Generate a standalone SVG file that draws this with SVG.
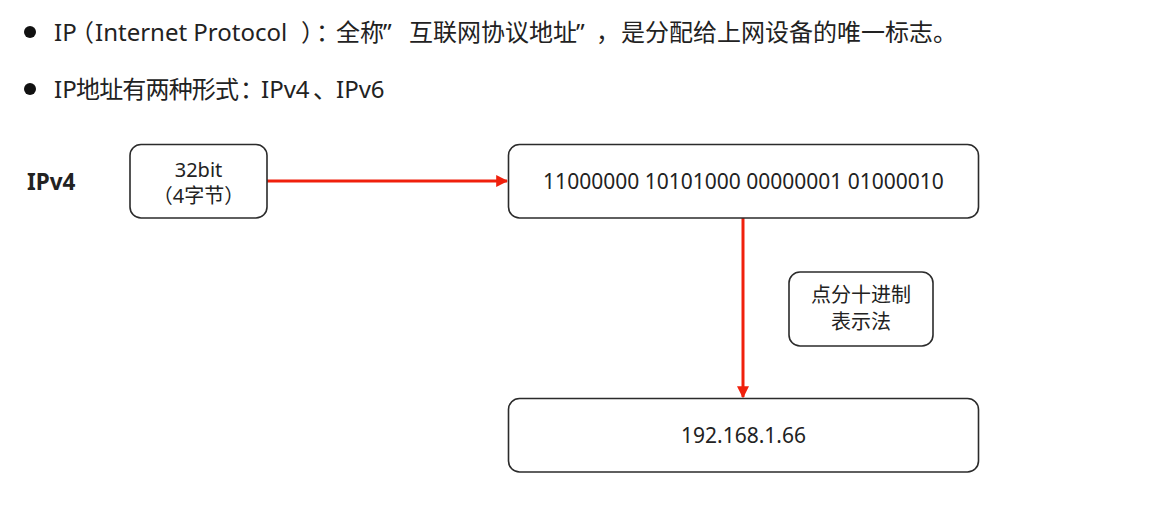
<svg xmlns="http://www.w3.org/2000/svg" width="1164" height="507" viewBox="0 0 1164 507">
<defs>
<style>
.t{font-family:"Noto Sans","Noto Sans CJK SC",sans-serif;fill:#222;text-spacing-trim:space-all;}
.box{fill:#fff;stroke:#2b2b2b;stroke-width:1.6;}
.con{stroke:#f0200c;stroke-width:3;fill:none;}
</style>
<marker id="ah" viewBox="0 0 10 10" refX="9" refY="5" markerWidth="4" markerHeight="4" markerUnits="strokeWidth" orient="auto">
<path d="M0,0 L10,5 L0,10 z" fill="#f0200c"/>
</marker>
</defs>
<rect width="1164" height="507" fill="#fff"/>
<g id="header">
<circle cx="30" cy="32" r="6" fill="#111"/>
<text class="t" y="41" font-size="24"><tspan x="54">IP</tspan><tspan x="70">（</tspan><tspan x="95">Internet Protocol</tspan><tspan x="301">）</tspan><tspan x="316">：</tspan><tspan x="336">全称</tspan><tspan x="383">”</tspan><tspan x="409">互联网协议地址</tspan><tspan x="576">”</tspan><tspan x="596">，</tspan><tspan x="621">是分配给上网设备的唯一标志。</tspan></text>
<circle cx="30" cy="89" r="6" fill="#111"/>
<text class="t" y="98" font-size="24"><tspan x="54">IP</tspan><tspan x="76" textLength="163" lengthAdjust="spacing">地址有两种形式</tspan><tspan x="240">：</tspan><tspan x="261">IPv4</tspan><tspan x="313">、</tspan><tspan x="336">IPv6</tspan></text>
<text class="t" x="27" y="190" font-size="22.5" font-weight="bold" fill="#111">IPv4</text>
</g>
<g id="connectors">
<line class="con" x1="267" y1="181" x2="507" y2="181" marker-end="url(#ah)"/>
<line class="con" x1="743" y1="218" x2="743" y2="397" marker-end="url(#ah)"/>
</g>
<g id="node-32bit">
<rect class="box" x="130" y="144.5" width="137" height="73.5" rx="11"/>
<text class="t" x="198.5" y="177" font-size="20" text-anchor="middle">32bit</text>
<text class="t" x="198.5" y="203" font-size="20" text-anchor="middle">（4字节）</text>
</g>
<g id="node-binary">
<rect class="box" x="508.5" y="144.5" width="470" height="73.5" rx="11"/>
<text class="t" x="743.5" y="189" font-size="21" text-anchor="middle">11000000 10101000 00000001 01000010</text>
</g>
<g id="node-label">
<rect class="box" x="789" y="272" width="144" height="74" rx="11"/>
<text class="t" x="861" y="302" font-size="20" text-anchor="middle">点分十进制</text>
<text class="t" x="861" y="329" font-size="20" text-anchor="middle">表示法</text>
</g>
<g id="node-decimal">
<rect class="box" x="508.5" y="398.5" width="470" height="73.5" rx="11"/>
<text class="t" x="743.5" y="443" font-size="21" text-anchor="middle">192.168.1.66</text>
</g>
</svg>
